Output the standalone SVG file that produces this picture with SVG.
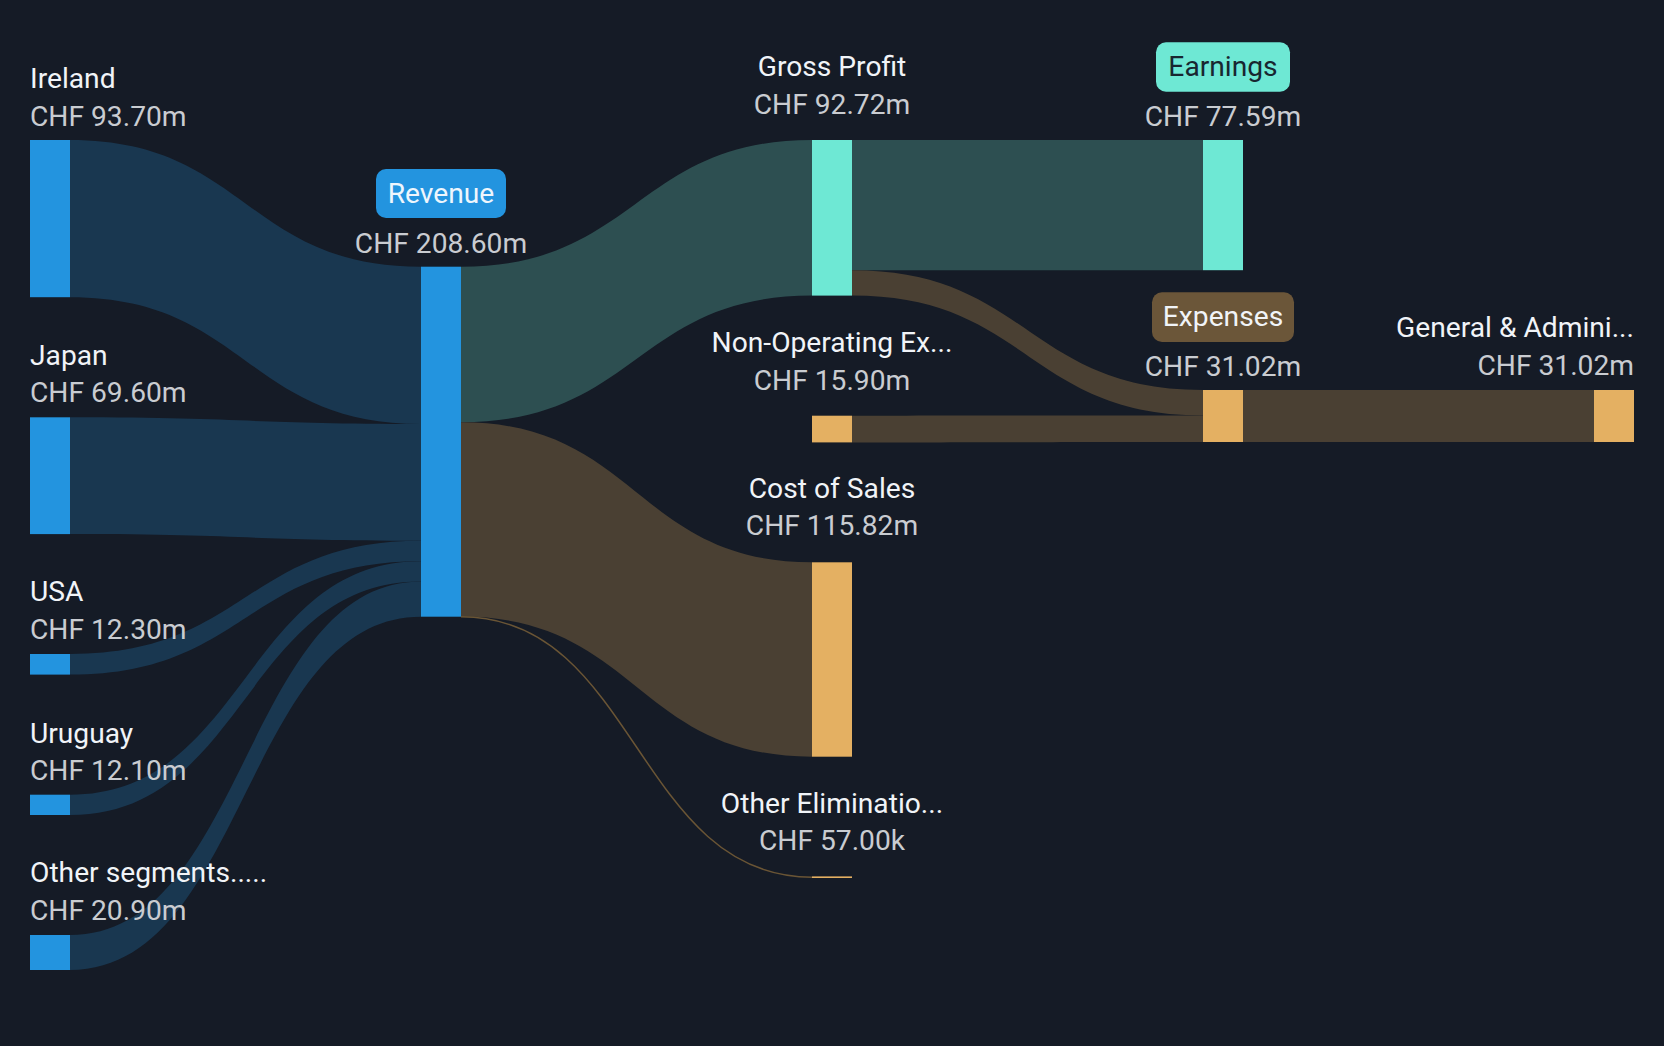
<svg xmlns="http://www.w3.org/2000/svg" width="1664" height="1046" viewBox="0 0 1664 1046">
<style>
.lbl{font-family:Roboto,"Liberation Sans",sans-serif;font-size:28.2px;fill:#f1f4f8}
.val{font-family:Roboto,"Liberation Sans",sans-serif;font-size:28.2px;fill:#c9ccd1}
.mid{text-anchor:middle}
.end{text-anchor:end}
.fb{fill:#193750}
.ft{fill:#2d4f51}
.fo{fill:#4a4033}
.nb{fill:#2394df}
.nt{fill:#6ee8d4}
.no{fill:#e4b062}
</style>
<rect width="1664" height="1046" fill="#151b26"/>
<g id="connectors">
<path class="fb" d="M70,140 C245.5,140 245.5,266.7 421,266.7 L421,423.9 C245.5,423.9 245.5,297.2 70,297.2 Z"/>
<path class="fb" d="M70,417.3 C245.5,417.3 245.5,423.9 421,423.9 L421,540.7 C245.5,540.7 245.5,534.1 70,534.1 Z"/>
<path class="fb" d="M70,654 C245.5,654 245.5,540.7 421,540.7 L421,561.3 C245.5,561.3 245.5,674.6 70,674.6 Z"/>
<path class="fb" d="M70,794.7 C245.5,794.7 245.5,561.3 421,561.3 L421,581.6 C245.5,581.6 245.5,815 70,815 Z"/>
<path class="fb" d="M70,935 C245.5,935 245.5,581.6 421,581.6 L421,616.7 C245.5,616.7 245.5,970 70,970 Z"/>
<path class="ft" d="M461,266.7 C636.5,266.7 636.5,140 812,140 L812,295.6 C636.5,295.6 636.5,422.3 461,422.3 Z"/>
<path class="fo" d="M461,422.3 C636.5,422.3 636.5,562.3 812,562.3 L812,756.7 C636.5,756.7 636.5,616.6 461,616.6 Z"/>
<path d="M461,616.8 C636.5,616.8 636.5,877.2 812,877.2" fill="none" stroke="#6a5535" stroke-width="1.5"/>
<path class="ft" d="M852,140 L1203,140 L1203,270.2 L852,270.2 Z"/>
<path class="fo" d="M852,270.2 C1027.5,270.2 1027.5,390 1203,390 L1203,415.4 C1027.5,415.4 1027.5,295.6 852,295.6 Z"/>
<path class="fo" d="M852,415.7 C1027.5,415.7 1027.5,415.4 1203,415.4 L1203,442 C1027.5,442 1027.5,442.4 852,442.4 Z"/>
<path class="fo" d="M1243,390 L1594,390 L1594,442 L1243,442 Z"/>
</g>
<g id="ireland">
<rect class="nb" x="30" y="140" width="40" height="157.2"/>
<text class="lbl" x="30" y="88">Ireland</text>
<text class="val" x="30" y="126">CHF 93.70m</text>
</g>
<g id="japan">
<rect class="nb" x="30" y="417.3" width="40" height="116.8"/>
<text class="lbl" x="30" y="364.5">Japan</text>
<text class="val" x="30" y="402">CHF 69.60m</text>
</g>
<g id="usa">
<rect class="nb" x="30" y="654" width="40" height="20.6"/>
<text class="lbl" x="30" y="600.5">USA</text>
<text class="val" x="30" y="638.5">CHF 12.30m</text>
</g>
<g id="uruguay">
<rect class="nb" x="30" y="794.7" width="40" height="20.3"/>
<text class="lbl" x="30" y="742.5">Uruguay</text>
<text class="val" x="30" y="780">CHF 12.10m</text>
</g>
<g id="other-segments">
<rect class="nb" x="30" y="935" width="40" height="35"/>
<text class="lbl" x="30" y="882.3">Other segments.....</text>
<text class="val" x="30" y="920">CHF 20.90m</text>
</g>
<g id="revenue">
<rect class="nb" x="421" y="266.7" width="40" height="350"/>
<rect x="376" y="169" width="130" height="49" rx="10" fill="#2394df"/>
<text class="lbl mid" x="441" y="203" style="fill:#eef6fd">Revenue</text>
<text class="val mid" x="441" y="252.5">CHF 208.60m</text>
</g>
<g id="gross-profit">
<rect class="nt" x="812" y="140" width="40" height="155.6"/>
<text class="lbl mid" x="832" y="75.7">Gross Profit</text>
<text class="val mid" x="832" y="113.5">CHF 92.72m</text>
</g>
<g id="non-operating">
<rect class="no" x="812" y="415.7" width="40" height="26.7"/>
<text class="lbl mid" x="832" y="351.7">Non-Operating Ex...</text>
<text class="val mid" x="832" y="390">CHF 15.90m</text>
</g>
<g id="cost-of-sales">
<rect class="no" x="812" y="562.3" width="40" height="194.4"/>
<text class="lbl mid" x="832" y="497.5">Cost of Sales</text>
<text class="val mid" x="832" y="535">CHF 115.82m</text>
</g>
<g id="other-eliminations">
<rect class="no" x="812" y="876.4" width="40" height="1.6"/>
<text class="lbl mid" x="832" y="812.7">Other Eliminatio...</text>
<text class="val mid" x="832" y="850">CHF 57.00k</text>
</g>
<g id="earnings">
<rect class="nt" x="1203" y="140" width="40" height="130.2"/>
<rect x="1156" y="42.3" width="134" height="49.4" rx="10" fill="#6ee8d4"/>
<text class="lbl mid" x="1223" y="75.7" style="fill:#182630">Earnings</text>
<text class="val mid" x="1223" y="125.7">CHF 77.59m</text>
</g>
<g id="expenses">
<rect class="no" x="1203" y="390" width="40" height="52"/>
<rect x="1152" y="292.3" width="142" height="49.7" rx="10" fill="#6b5639"/>
<text class="lbl mid" x="1223" y="325.7">Expenses</text>
<text class="val mid" x="1223" y="375.7">CHF 31.02m</text>
</g>
<g id="general-admin">
<rect class="no" x="1594" y="390" width="40" height="52"/>
<text class="lbl end" x="1634" y="336.7">General &amp; Admini...</text>
<text class="val end" x="1634" y="375">CHF 31.02m</text>
</g>
</svg>
